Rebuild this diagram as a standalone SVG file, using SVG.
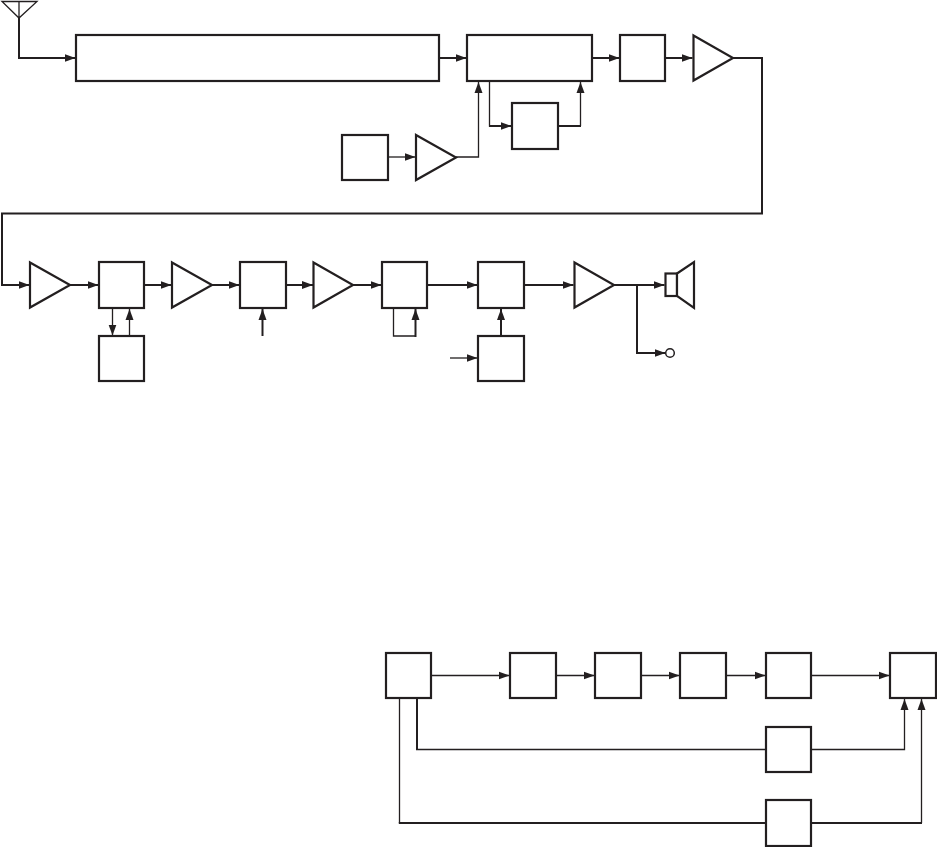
<svg xmlns="http://www.w3.org/2000/svg" width="937" height="847" viewBox="0 0 937 847">
<style>
rect.b,polygon.a,path.s{fill:#fff;stroke:#231f20;stroke-width:2.2}
polygon.a{stroke-linejoin:miter}
path.w,path.t{fill:none;stroke:#231f20;stroke-linejoin:miter}
path.w{stroke-width:2}
path.t{stroke-width:1.3}
path.e{marker-end:url(#ah)}
</style>
<defs>
<marker id="ah" markerUnits="userSpaceOnUse" markerWidth="12" markerHeight="10" refX="11" refY="5" orient="auto"><path d="M0 1L11 5L0 9z" fill="#231f20"/></marker>
</defs>
<rect width="937" height="847" fill="#fff"/>
<g id="connectors">
<path class="w e" d="M19 18V58H75.5"/>
<path class="w e" d="M440 58H466.5"/>
<path class="w e" d="M593 58H619.5"/>
<path class="w e" d="M666 58H692.5"/>
<path class="w" d="M733 58H762V213.5H2V285H29.5" marker-end="url(#ah)"/>
<path class="t e" d="M389 157H415.5"/>
<path class="t e" d="M456 157H478.5V82"/>
<path class="t" d="M489.5 82V126H500"/>
<path class="w e" d="M489 126H511.5"/>
<path class="t e" d="M580.5 126V82"/>
<path class="w" d="M559 126H581"/>
<path class="w e" d="M70 285H98.5"/>
<path class="w e" d="M145 285H171.5"/>
<path class="w e" d="M212 285H239.5"/>
<path class="w e" d="M287 285H313"/>
<path class="w e" d="M353 285H381.5"/>
<path class="w e" d="M428 285H477.5"/>
<path class="w e" d="M525 285H573.5"/>
<path class="w e" d="M614 285H664.5"/>
<path class="w e" d="M637 285V353H665.5"/>
<path class="t e" d="M112.5 309V335.5"/>
<path class="t e" d="M129.5 336V309"/>
<path class="w e" d="M262.5 336V309"/>
<path class="t" d="M393.5 309V336H415"/>
<path class="w e" d="M415.5 337V309"/>
<path class="t e" d="M450 358H477.5"/>
<path class="w e" d="M501 336V309"/>
<path class="t e" d="M432 675.5H509.5"/>
<path class="t e" d="M557 675.5H594.5"/>
<path class="t e" d="M642 675.5H679.5"/>
<path class="t e" d="M727 675.5H765.5"/>
<path class="t e" d="M812 675.5H889.5"/>
<path class="w" d="M417 699V749.5"/>
<path class="t" d="M416 749.5H766"/>
<path class="t e" d="M812 749.5H904.5V699"/>
<path class="t" d="M399.5 699V823"/>
<path class="w" d="M398.8 823H766"/>
<path class="w" d="M812 823H922"/>
<path class="t e" d="M921.5 823V699"/>
</g>
<g id="antenna"><path class="t" d="M2 1.5H37L19 18ZM19 1.5V18"/></g>
<g id="n1"><rect class="b" x="76" y="35" width="363" height="46"/></g>
<g id="n2"><rect class="b" x="467" y="35" width="125" height="46"/></g>
<g id="n3"><rect class="b" x="620" y="35" width="45" height="46"/></g>
<g id="amp1"><polygon class="a" points="693.5,35.5 733,58 693.5,80.5"/></g>
<g id="n4"><rect class="b" x="512" y="103" width="46" height="46"/></g>
<g id="n5"><rect class="b" x="342" y="135" width="46" height="45"/></g>
<g id="amp2"><polygon class="a" points="416,135 456,157.5 416,180"/></g>
<g id="amp3"><polygon class="a" points="30,262.5 70,285 30,307.5"/></g>
<g id="n6"><rect class="b" x="99" y="262" width="45" height="46"/></g>
<g id="n7"><rect class="b" x="99" y="336" width="45" height="45"/></g>
<g id="amp4"><polygon class="a" points="172,262.5 212,285 172,307.5"/></g>
<g id="n8"><rect class="b" x="240" y="262" width="46" height="46"/></g>
<g id="amp5"><polygon class="a" points="313.5,262.5 353,285 313.5,307.5"/></g>
<g id="n9"><rect class="b" x="382" y="262" width="45" height="46"/></g>
<g id="n10"><rect class="b" x="478" y="262" width="46" height="46"/></g>
<g id="n11"><rect class="b" x="478" y="336" width="46" height="45"/></g>
<g id="amp6"><polygon class="a" points="574.5,262.5 614,285 574.5,307.5"/></g>
<g id="speaker"><rect class="b" x="665.5" y="273.5" width="11.5" height="22.5"/><path class="s" d="M677 273.5L694 262V308L677 296Z"/></g>
<g id="jack"><circle cx="670" cy="353" r="4.3" fill="#fff" stroke="#231f20" stroke-width="1.5"/></g>
<g id="n12"><rect class="b" x="386" y="653" width="45" height="45"/></g>
<g id="n13"><rect class="b" x="510" y="653" width="46" height="45"/></g>
<g id="n14"><rect class="b" x="595" y="653" width="46" height="45"/></g>
<g id="n15"><rect class="b" x="680" y="653" width="46" height="45"/></g>
<g id="n16"><rect class="b" x="766" y="653" width="45" height="45"/></g>
<g id="n17"><rect class="b" x="890" y="653" width="46" height="45"/></g>
<g id="n18"><rect class="b" x="766" y="727" width="45" height="45"/></g>
<g id="n19"><rect class="b" x="766" y="800" width="45" height="46"/></g>
</svg>
